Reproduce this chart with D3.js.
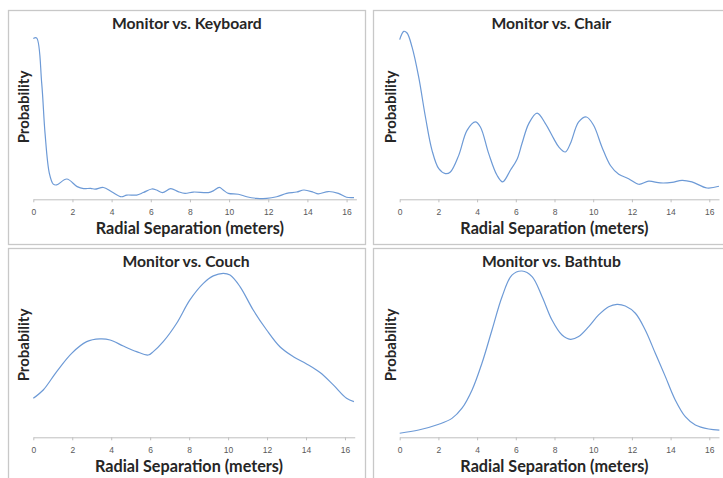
<!DOCTYPE html>
<html>
<head>
<meta charset="utf-8">
<script src="https://cdn.jsdelivr.net/npm/d3@7"></script>
<style>
  body { margin: 0; background: #fff; }
  svg { display: block; }
  .tick text { fill: #595959; font-family: "Liberation Sans", sans-serif; font-size: 8.5px; }
  .tick line, .domain { stroke: #bfbfbf; }
</style>
</head>
<body>
<svg id="chart" width="723" height="478"></svg>
<script>
// x ticks shared by every panel (meters)
const radialTicks = [0, 2, 4, 6, 8, 10, 12, 14, 16];
const xMax = 16.5;

// [radial separation, relative probability]
const keyboard = [
  [0, 0.952], [0.17, 0.955], [0.43, 0.686], [0.6, 0.39], [0.82, 0.154], [1.02, 0.09],
  [1.19, 0.085], [1.71, 0.12], [2.24, 0.075], [2.57, 0.063], [2.93, 0.065], [3.15, 0.06],
  [3.58, 0.07], [4.0, 0.045], [4.5, 0.015], [4.77, 0.025], [5.28, 0.025], [5.62, 0.04],
  [6.05, 0.061], [6.3, 0.055], [6.6, 0.04], [7.02, 0.063], [7.4, 0.045], [7.75, 0.035],
  [8.17, 0.043], [8.94, 0.04], [9.19, 0.05], [9.5, 0.071], [9.7, 0.055], [9.96, 0.035],
  [10.47, 0.03], [10.9, 0.015], [11.4, 0.006], [11.92, 0.005], [12.43, 0.015], [12.94, 0.035],
  [13.45, 0.043], [13.82, 0.055], [14.3, 0.042], [14.55, 0.032], [15.07, 0.046], [15.58, 0.035],
  [16.0, 0.012], [16.38, 0.01]
];

const chair = [
  [0, 0.945], [0.21, 0.994], [0.38, 0.984], [0.64, 0.9], [0.98, 0.724], [1.33, 0.487],
  [1.67, 0.29], [2.02, 0.181], [2.36, 0.152], [2.62, 0.162], [3.05, 0.26], [3.48, 0.408],
  [3.91, 0.458], [4.17, 0.428], [4.6, 0.27], [5.03, 0.142], [5.32, 0.103], [5.72, 0.172],
  [6.06, 0.235], [6.32, 0.33], [6.67, 0.448], [7.1, 0.51], [7.53, 0.448], [7.96, 0.359],
  [8.22, 0.31], [8.56, 0.28], [8.82, 0.33], [9.25, 0.458], [9.65, 0.487], [10.02, 0.438],
  [10.45, 0.31], [10.89, 0.2], [11.32, 0.148], [11.83, 0.122], [12.35, 0.089], [12.87, 0.107],
  [13.47, 0.097], [14.07, 0.1], [14.59, 0.112], [15.1, 0.103], [15.88, 0.067], [16.5, 0.077]
];

const couch = [
  [0, 0.231], [0.51, 0.28], [1.2, 0.389], [1.97, 0.497], [2.74, 0.566], [3.42, 0.582],
  [3.94, 0.576], [4.62, 0.54], [5.3, 0.507], [5.9, 0.487], [6.16, 0.507], [6.67, 0.566],
  [7.36, 0.675], [8.04, 0.813], [8.73, 0.911], [9.24, 0.955], [9.75, 0.97], [10.1, 0.96],
  [10.61, 0.892], [11.29, 0.753], [11.98, 0.635], [12.66, 0.536], [13.35, 0.477], [14.03, 0.434],
  [14.72, 0.383], [15.4, 0.31], [16.08, 0.231], [16.46, 0.211]
];

const bathtub = [
  [0, 0.024], [0.98, 0.043], [2.02, 0.077], [2.7, 0.112], [3.22, 0.172], [3.74, 0.28],
  [4.25, 0.438], [4.77, 0.635], [5.29, 0.832], [5.8, 0.96], [6.32, 0.984], [6.84, 0.951],
  [7.36, 0.832], [7.87, 0.694], [8.39, 0.605], [8.82, 0.58], [9.25, 0.596], [9.77, 0.655],
  [10.28, 0.724], [10.8, 0.773], [11.23, 0.787], [11.66, 0.777], [12.18, 0.734], [12.69, 0.635],
  [13.21, 0.497], [13.73, 0.359], [14.24, 0.221], [14.76, 0.122], [15.28, 0.073], [15.97, 0.049],
  [16.52, 0.043]
];

const panels = [
  {title: "Monitor vs. Keyboard", data: keyboard, x: 8, y: 10, left: 25.3, perM: 19.58},
  {title: "Monitor vs. Chair", data: chair, x: 373, y: 10, left: 26.7, perM: 19.35},
  {title: "Monitor vs. Couch", data: couch, x: 8, y: 248, left: 25.3, perM: 19.48},
  {title: "Monitor vs. Bathtub", data: bathtub, x: 373, y: 248, left: 26.7, perM: 19.35}
];

const svg = d3.select("#chart");
const panelW = 357, panelH = 234;
const axisY = 189.3, plotTop = 20.3;

panels.forEach(p => {
  const g = svg.append("g").attr("transform", `translate(${p.x},${p.y})`);

  g.append("rect")
    .attr("x", 0.5).attr("y", 0.5)
    .attr("width", panelW).attr("height", panelH)
    .attr("fill", "none")
    .attr("stroke", "#c8c8c8")
    .attr("stroke-width", 1.3);

  const x = d3.scaleLinear()
    .domain([0, xMax])
    .range([p.left, p.left + xMax * p.perM]);

  const y = d3.scaleLinear()
    .domain([0, 1])
    .range([axisY, plotTop]);

  g.append("g")
    .attr("transform", `translate(0,${axisY})`)
    .call(d3.axisBottom(x).tickValues(radialTicks).tickSize(3).tickPadding(7).tickSizeOuter(0))
    .call(a => a.select(".domain").attr("stroke", "#bfbfbf"));

  g.append("path")
    .datum(p.data)
    .attr("fill", "none")
    .attr("stroke", "#6d9ad6")
    .attr("stroke-width", 1.2)
    .attr("d", d3.line()
      .x(d => x(d[0]))
      .y(d => y(d[1]))
      .curve(d3.curveCatmullRom.alpha(0.5)));

  const mid = p.left + 8.2 * p.perM;

  g.append("text")
    .attr("x", mid - 7).attr("y", 19)
    .attr("text-anchor", "middle")
    .style("font-family", "Lato, sans-serif")
    .style("font-weight", "bold")
    .style("font-size", "15.7px")
    .style("fill", "#262626")
    .text(p.title);

  g.append("text")
    .attr("x", mid - 4).attr("y", 224)
    .attr("text-anchor", "middle")
    .style("font-family", "Lato, sans-serif")
    .style("font-weight", "bold")
    .style("font-size", "16.2px")
    .style("fill", "#262626")
    .text("Radial Separation (meters)");

  g.append("text")
    .attr("transform", `translate(${p.left - 4},97) rotate(-90)`)
    .attr("text-anchor", "middle")
    .style("font-family", "Lato, sans-serif")
    .style("font-weight", "bold")
    .style("font-size", "15px")
    .style("fill", "#262626")
    .text("Probability");
});
</script>
</body>
</html>
